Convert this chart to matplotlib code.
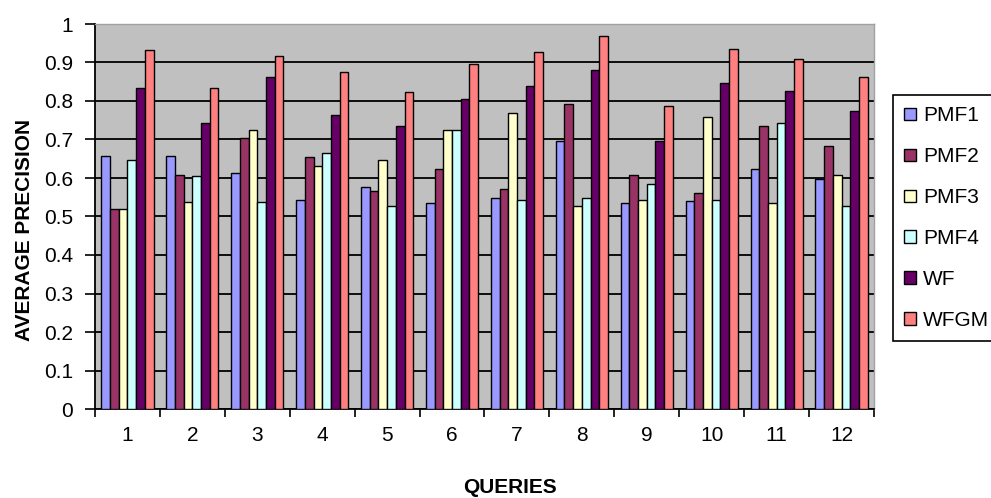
import matplotlib
matplotlib.use('Agg')
import matplotlib.pyplot as plt
import numpy as np

plt.rcParams['font.family'] = ['Liberation Sans', 'DejaVu Sans']

queries = ['1', '2', '3', '4', '5', '6', '7', '8', '9', '10', '11', '12']
series_names = ['PMF1', 'PMF2', 'PMF3', 'PMF4', 'WF', 'WFGM']
pmf1 = [0.656, 0.656, 0.613, 0.543, 0.576, 0.534, 0.548, 0.697, 0.534, 0.539, 0.623, 0.598]
pmf2 = [0.520, 0.609, 0.703, 0.655, 0.567, 0.623, 0.572, 0.793, 0.609, 0.562, 0.736, 0.684]
pmf3 = [0.520, 0.538, 0.725, 0.632, 0.647, 0.725, 0.768, 0.528, 0.543, 0.759, 0.534, 0.609]
pmf4 = [0.647, 0.604, 0.538, 0.665, 0.528, 0.725, 0.542, 0.547, 0.585, 0.542, 0.744, 0.528]
wf = [0.834, 0.744, 0.862, 0.764, 0.736, 0.806, 0.839, 0.881, 0.697, 0.848, 0.825, 0.773]
wfgm = [0.932, 0.833, 0.917, 0.875, 0.824, 0.895, 0.927, 0.969, 0.788, 0.936, 0.908, 0.862]
colors = ['#9999FF', '#993366', '#FFFFCC', '#CCFFFF', '#660066', '#FF8080']

all_series = [pmf1, pmf2, pmf3, pmf4, wf, wfgm]

fig = plt.figure(figsize=(9.91, 4.98), dpi=100)
ax = fig.add_axes([95/991, 1 - 409/498, (874-95)/991, (409-24)/498])
ax.set_facecolor('#C0C0C0')

x = np.arange(len(queries))
w = 0.134
for i, (vals, name, col) in enumerate(zip(all_series, series_names, colors)):
    ax.bar(x + (i - 2.5) * w, vals, width=w, color=col, edgecolor='black',
           linewidth=1, label=name, zorder=3)

ax.set_xlim(-0.5, 11.5)
ax.set_ylim(0, 1)
ax.set_yticks(np.arange(0, 1.01, 0.1))
ax.set_yticklabels(['0', '0.1', '0.2', '0.3', '0.4', '0.5', '0.6', '0.7', '0.8', '0.9', '1'])
ax.yaxis.grid(True, color='black', linewidth=1.3, zorder=1)
ax.set_axisbelow(True)

ax.set_xticks(x)
ax.set_xticklabels(queries)
ax.set_xticks(np.arange(-0.5, 12, 1), minor=True)
ax.tick_params(axis='x', which='major', length=0, pad=12, labelsize=15)
ax.tick_params(axis='x', which='minor', length=6, width=1.2, direction='out')
ax.tick_params(axis='y', length=7, width=1.2, direction='out', pad=9, labelsize=15)

for s in ['left', 'bottom']:
    ax.spines[s].set_color('black')
    ax.spines[s].set_linewidth(1.3)
for s in ['top', 'right']:
    ax.spines[s].set_color('#A0A0A0')
    ax.spines[s].set_linewidth(1)

fig.text(25/991, 1 - 230/498, 'AVERAGE PRECISION', rotation=90, ha='center', va='center',
         fontsize=15, fontweight='bold')
fig.text(510/991, 1 - 487/498, 'QUERIES', ha='center', va='center',
         fontsize=15, fontweight='bold')

leg = fig.legend(loc='upper left', bbox_to_anchor=(893/991, 1 - 338/498, 110/991, 243/498),
                 mode='expand', fontsize=15,
                 handlelength=0.55, handleheight=0.55, handletextpad=0.35, labelspacing=1.05,
                 borderpad=0.55, fancybox=False, framealpha=1, edgecolor='black',
                 borderaxespad=0)
leg.get_frame().set_linewidth(1.2)

fig.savefig('out.png', dpi=100)
